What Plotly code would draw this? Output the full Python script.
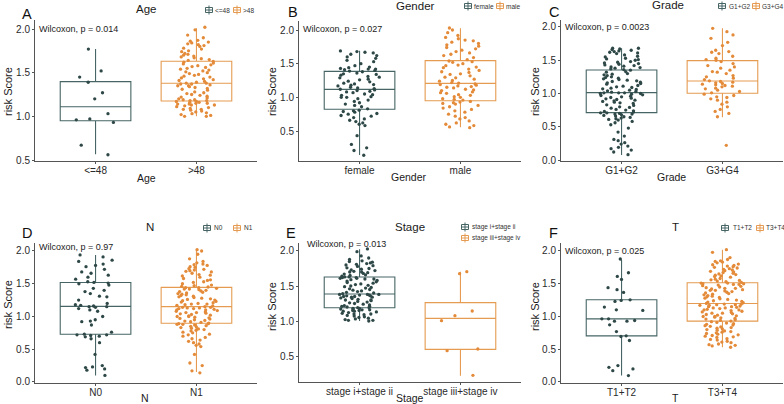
import plotly.graph_objects as go

W, H = 784, 404

# ---------------- data ----------------
age_cats = ["<=48", ">48"]
age_le48 = [1.77, 1.52, 1.45, 1.27, 1.20, 1.39, 1.03, 0.97, 0.96, 0.93, 0.67, 0.56]
age_gt48 = [1.00, 1.00, 1.01, 1.02, 1.03, 1.04, 1.05, 1.06, 1.07, 1.08, 1.08, 1.09, 1.10, 1.11, 1.12,
            1.13, 1.13, 1.14, 1.14, 1.15, 1.15, 1.16, 1.16, 1.17, 1.17, 1.18, 1.18, 1.19, 1.19, 1.20,
            1.21, 1.22, 1.23, 1.24, 1.25, 1.26, 1.27, 1.28, 1.30, 1.31, 1.32, 1.33, 1.34, 1.35, 1.35,
            1.36, 1.37, 1.37, 1.38, 1.38, 1.39, 1.40, 1.41, 1.42, 1.43, 1.44, 1.45, 1.46, 1.47, 1.48,
            1.49, 1.50, 1.51, 1.52, 1.53, 1.54, 1.55, 1.56, 1.57, 1.58, 1.59, 1.60, 1.61, 1.62, 1.63,
            1.64, 1.65, 1.66, 1.67, 1.68, 1.69, 1.70, 1.71, 1.72, 1.74, 1.75, 1.77, 1.78, 1.80, 1.81,
            1.82, 1.83, 1.84, 1.85, 1.86, 1.87, 1.90, 1.93, 1.99, 2.02]
age_box = {"<=48": [0.565, 0.95, 1.11, 1.397, 1.77], ">48": [1.00, 1.176, 1.378, 1.63, 2.008]}

gender_cats = ["female", "male"]
gender_female = [0.14, 0.21, 0.25, 0.30, 0.43, 0.58, 0.60, 0.62, 0.64, 0.66, 0.68, 0.70, 0.72, 0.73,
                 0.75, 0.76, 0.78, 0.79, 0.80, 0.81, 0.83, 0.86, 0.88, 0.90, 0.92, 0.94, 0.96, 0.98,
                 1.00, 1.00, 1.01, 1.03, 1.04, 1.05, 1.07, 1.08, 1.09, 1.10, 1.11, 1.12, 1.13, 1.14,
                 1.15, 1.17, 1.18, 1.19, 1.20, 1.21, 1.23, 1.24, 1.26, 1.27, 1.29, 1.30, 1.31, 1.33,
                 1.34, 1.35, 1.36, 1.38, 1.39, 1.40, 1.41, 1.42, 1.42, 1.43, 1.44, 1.45, 1.47, 1.50,
                 1.53, 1.55, 1.58, 1.60, 1.62, 1.64, 1.66, 1.67, 1.68, 1.69]
gender_male = [0.55, 0.56, 0.58, 0.60, 0.62, 0.65, 0.68, 0.70, 0.72, 0.75, 0.78, 0.80, 0.82, 0.84,
               0.86, 0.88, 0.90, 0.91, 0.92, 0.93, 0.94, 0.96, 0.97, 0.98, 1.00, 1.01, 1.03, 1.04,
               1.06, 1.07, 1.08, 1.10, 1.11, 1.12, 1.14, 1.15, 1.16, 1.17, 1.18, 1.19, 1.20, 1.21,
               1.22, 1.24, 1.25, 1.27, 1.29, 1.30, 1.32, 1.34, 1.35, 1.37, 1.38, 1.40, 1.42, 1.44,
               1.45, 1.47, 1.48, 1.50, 1.52, 1.53, 1.54, 1.56, 1.59, 1.62, 1.64, 1.66, 1.68, 1.70,
               1.72, 1.74, 1.76, 1.78, 1.80, 1.82, 1.84, 1.85, 1.87, 1.89, 1.92, 1.96, 2.00, 2.03]
gender_box = {"female": [0.144, 0.822, 1.119, 1.386, 1.693], "male": [0.555, 0.95, 1.208, 1.545, 2.025]}

grade_cats = ["G1+G2", "G3+G4"]
grade_g12 = [0.08, 0.12, 0.15, 0.17, 0.19, 0.21, 0.24, 0.26, 0.29, 0.31, 0.36, 0.42, 0.48, 0.53, 0.56,
             0.58, 0.60, 0.61, 0.62, 0.63, 0.64, 0.65, 0.66, 0.67, 0.68, 0.69, 0.69, 0.70, 0.71, 0.71,
             0.72, 0.73, 0.74, 0.75, 0.76, 0.78, 0.79, 0.80, 0.82, 0.83, 0.85, 0.86, 0.87, 0.88, 0.89,
             0.90, 0.91, 0.92, 0.93, 0.94, 0.95, 0.96, 0.97, 0.98, 0.99, 1.00, 1.00, 1.01, 1.01, 1.01,
             1.02, 1.03, 1.04, 1.05, 1.06, 1.07, 1.08, 1.09, 1.10, 1.11, 1.12, 1.14, 1.15, 1.16, 1.17,
             1.18, 1.19, 1.20, 1.21, 1.22, 1.23, 1.24, 1.25, 1.27, 1.28, 1.29, 1.30, 1.32, 1.33, 1.35,
             1.36, 1.37, 1.38, 1.39, 1.40, 1.41, 1.42, 1.43, 1.44, 1.45, 1.46, 1.47, 1.48, 1.50, 1.51,
             1.52, 1.53, 1.55, 1.56, 1.58, 1.60, 1.61, 1.62, 1.63, 1.64, 1.65, 1.66, 1.67, 1.68, 1.68]
grade_g34 = [0.22, 0.65, 0.70, 0.73, 0.76, 0.80, 0.84, 0.87, 0.90, 0.92, 0.94, 0.95, 0.97, 0.99,
             1.01, 1.03, 1.05, 1.07, 1.08, 1.10, 1.11, 1.12, 1.13, 1.14, 1.15, 1.16, 1.17, 1.18,
             1.19, 1.21, 1.23, 1.25, 1.27, 1.30, 1.32, 1.33, 1.35, 1.38, 1.40, 1.42, 1.45, 1.48,
             1.50, 1.51, 1.53, 1.56, 1.60, 1.62, 1.63, 1.65, 1.72, 1.77, 1.83, 1.88, 1.93, 1.98]
grade_box = {"G1+G2": [0.075, 0.712, 1.013, 1.353, 1.68], "G3+G4": [0.642, 1.003, 1.188, 1.494, 1.98]}

n_cats = ["N0", "N1"]
n_n0 = [0.10, 0.18, 0.20, 0.22, 0.23, 0.25, 0.42, 0.60, 0.66, 0.69, 0.70, 0.71, 0.72, 0.72,
        0.73, 0.76, 0.87, 0.92, 0.93, 0.95, 1.00, 1.08, 1.10, 1.12, 1.14, 1.15, 1.15, 1.16,
        1.17, 1.18, 1.20, 1.25, 1.30, 1.31, 1.35, 1.38, 1.40, 1.43, 1.48, 1.50, 1.51, 1.52,
        1.53, 1.57, 1.60, 1.63, 1.66, 1.68, 1.72, 1.76, 1.78, 1.80, 1.84, 1.86, 1.91, 1.94]
n_n1 = [0.14, 0.17, 0.25, 0.29, 0.42, 0.54, 0.56, 0.58, 0.60, 0.62, 0.64, 0.66, 0.68, 0.70, 0.72, 0.73,
        0.75, 0.76, 0.78, 0.79, 0.80, 0.81, 0.82, 0.83, 0.84, 0.85, 0.86, 0.87, 0.88, 0.88, 0.89, 0.89,
        0.90, 0.91, 0.92, 0.93, 0.94, 0.95, 0.96, 0.97, 0.98, 0.99, 1.00, 1.00, 1.01, 1.02, 1.03, 1.04,
        1.05, 1.06, 1.06, 1.07, 1.08, 1.09, 1.10, 1.10, 1.11, 1.12, 1.12, 1.13, 1.13, 1.14, 1.14, 1.15,
        1.16, 1.17, 1.18, 1.19, 1.19, 1.20, 1.21, 1.22, 1.23, 1.24, 1.25, 1.26, 1.27, 1.28, 1.29, 1.30,
        1.31, 1.32, 1.33, 1.34, 1.35, 1.36, 1.37, 1.38, 1.39, 1.40, 1.41, 1.42, 1.42, 1.43, 1.44, 1.44,
        1.45, 1.46, 1.47, 1.48, 1.50, 1.52, 1.53, 1.55, 1.56, 1.58, 1.60, 1.62, 1.63, 1.64, 1.66, 1.68,
        1.69, 1.70, 1.71, 1.72, 1.73, 1.75, 1.76, 1.78, 1.79, 1.80, 1.82, 1.84, 1.88, 1.95, 2.00, 2.02]
n_box = {"N0": [0.097, 0.728, 1.155, 1.52, 1.94], "N1": [0.153, 0.896, 1.15, 1.445, 2.015]}

stage_cats = ["stage i+stage ii", "stage iii+stage iv"]
stage_12 = [1.00, 1.01, 1.01, 1.02, 1.03, 1.04, 1.05, 1.06, 1.07, 1.08, 1.09, 1.10, 1.10, 1.11,
            1.12, 1.13, 1.14, 1.14, 1.15, 1.15, 1.16, 1.16, 1.17, 1.17, 1.18, 1.18, 1.19, 1.19,
            1.20, 1.21, 1.21, 1.22, 1.23, 1.24, 1.25, 1.26, 1.27, 1.28, 1.29, 1.30, 1.30, 1.31,
            1.32, 1.33, 1.34, 1.34, 1.35, 1.35, 1.36, 1.36, 1.37, 1.37, 1.38, 1.38, 1.38, 1.39,
            1.40, 1.41, 1.42, 1.43, 1.44, 1.45, 1.46, 1.47, 1.48, 1.49, 1.50, 1.51, 1.52, 1.53,
            1.54, 1.55, 1.56, 1.57, 1.58, 1.59, 1.60, 1.60, 1.61, 1.61, 1.62, 1.62, 1.63, 1.63,
            1.64, 1.65, 1.66, 1.67, 1.68, 1.69, 1.70, 1.70, 1.71, 1.72, 1.73, 1.74, 1.75, 1.76,
            1.78, 1.79, 1.80, 1.81, 1.82, 1.83, 1.84, 1.85, 1.86, 1.88, 1.90, 1.93, 1.99, 2.03]
stage_34 = [1.705, 1.676, 1.143, 1.076, 1.005, 0.600, 0.576, 0.224]
stage_box = {"stage i+stage ii": [1.0, 1.19, 1.386, 1.629, 2.024],
             "stage iii+stage iv": [0.219, 0.595, 1.038, 1.262, 1.705]}

t_cats = ["T1+T2", "T3+T4"]
t_12 = [1.878, 1.612, 1.566, 1.668, 1.44, 1.41, 1.367, 1.255, 1.245, 1.23, 1.143, 1.092, 1.102, 0.929,
        0.929, 0.939, 0.964, 0.964, 0.872, 0.77, 0.704, 0.694, 0.633, 0.25, 0.224, 0.20, 0.173, 0.097]
t_34 = [0.53, 0.55, 0.56, 0.57, 0.58, 0.60, 0.61, 0.62, 0.64, 0.65, 0.66, 0.68, 0.69, 0.70, 0.71, 0.72,
        0.73, 0.74, 0.75, 0.76, 0.77, 0.78, 0.79, 0.80, 0.81, 0.82, 0.83, 0.84, 0.85, 0.86, 0.87, 0.88,
        0.89, 0.90, 0.91, 0.92, 0.93, 0.94, 0.95, 0.96, 0.97, 0.98, 0.99, 1.00, 1.00, 1.01, 1.02, 1.03,
        1.04, 1.05, 1.05, 1.06, 1.07, 1.08, 1.09, 1.10, 1.10, 1.11, 1.12, 1.13, 1.13, 1.14, 1.15, 1.15,
        1.16, 1.17, 1.17, 1.18, 1.18, 1.19, 1.19, 1.20, 1.21, 1.22, 1.23, 1.24, 1.25, 1.26, 1.27, 1.28,
        1.29, 1.30, 1.31, 1.32, 1.33, 1.34, 1.35, 1.36, 1.37, 1.38, 1.39, 1.40, 1.40, 1.41, 1.42, 1.43,
        1.43, 1.44, 1.45, 1.46, 1.47, 1.48, 1.49, 1.49, 1.50, 1.50, 1.51, 1.51, 1.52, 1.53, 1.54, 1.55,
        1.56, 1.57, 1.58, 1.60, 1.61, 1.62, 1.63, 1.64, 1.65, 1.66, 1.67, 1.68, 1.69, 1.70, 1.71, 1.72,
        1.73, 1.74, 1.75, 1.76, 1.77, 1.78, 1.79, 1.80, 1.82, 1.83, 1.84, 1.85, 1.87, 1.90, 1.98, 2.02]
t_box = {"T1+T2": [0.097, 0.704, 0.964, 1.255, 1.867], "T3+T4": [0.531, 0.929, 1.199, 1.515, 2.02]}

pvals = ["0.014", "0.027", "0.0023", "0.97", "0.013", "0.025"]

# ---------------- styling / layout ----------------
TEAL, TEAL_PT = "#466564", "#2E4847"
ORANGE, ORANGE_PT = "#E59B52", "#E48B3A"
FONT = "Liberation Sans, Arial, sans-serif"


def fx(x):
    return x / W


def fy(y):
    return 1 - y / H


panels = [
    dict(letter="A", title="Age", cats=age_cats, data=[age_le48, age_gt48], box=age_box,
         xd=(35, 257), yd=(20, 161), yr=(0.4885, 2.103), ticks=[0.5, 1.0, 1.5, 2.0],
         title_pos=(146, 9), letter_pos=(27, 14), wil=(38, 29), ytitle=(8, 92), xtitle=(146, 178),
         leg=[(209, 10, 214), (237, 10, 242)]),
    dict(letter="B", title="Gender", cats=gender_cats, data=[gender_female, gender_male], box=gender_box,
         xd=(299, 521), yd=(21, 161), yr=(0.0544, 2.134), ticks=[0.5, 1.0, 1.5, 2.0],
         title_pos=(415, 6), letter_pos=(293, 12), wil=(302, 29), ytitle=(272, 92), xtitle=(409, 177),
         leg=[(468, 6, 473), (500, 6, 505)]),
    dict(letter="C", title="Grade", cats=grade_cats, data=[grade_g12, grade_g34], box=grade_box,
         xd=(561, 783), yd=(20, 161), yr=(-0.015, 2.105), ticks=[0.0, 0.5, 1.0, 1.5, 2.0],
         title_pos=(668, 5), letter_pos=(554, 12), wil=(564, 27), ytitle=(535, 92), xtitle=(671, 177),
         leg=[(722, 6, 728), (756, 6, 761)]),
    dict(letter="D", title="N", cats=n_cats, data=[n_n0, n_n1], box=n_box,
         xd=(35, 257), yd=(243, 382.5), yr=(-0.008, 2.122), ticks=[0.0, 0.5, 1.0, 1.5, 2.0],
         title_pos=(150, 227), letter_pos=(27, 233), wil=(38, 247), ytitle=(8, 305), xtitle=(145, 398),
         leg=[(207, 228, 213), (237, 228, 243)]),
    dict(letter="E", title="Stage", cats=stage_cats, data=[stage_12, stage_34], box=stage_box,
         xd=(299, 521), yd=(243, 382), yr=(0.129, 2.114), ticks=[0.5, 1.0, 1.5, 2.0],
         title_pos=(410, 227), letter_pos=(291, 233), wil=(306, 244), ytitle=(272, 307), xtitle=(410, 398),
         leg=[(465, 227, 471), (465, 238, 471)]),
    dict(letter="F", title="T", cats=t_cats, data=[t_12, t_34], box=t_box,
         xd=(561, 783), yd=(243, 382.5), yr=(-0.008, 2.122), ticks=[0.0, 0.5, 1.0, 1.5, 2.0],
         title_pos=(675, 227), letter_pos=(553, 233), wil=(564, 251), ytitle=(535, 307), xtitle=(675, 398),
         leg=[(725, 228, 732), (760, 228, 765)]),
]

fig = go.Figure()
layout = dict(width=W, height=H, autosize=False, margin=dict(l=0, r=0, t=0, b=0, pad=0),
              paper_bgcolor="white", plot_bgcolor="white", showlegend=False,
              font=dict(family=FONT, color="#222"), boxmode="overlay")
annotations = []
shapes = []

line_cols = [TEAL, ORANGE]
pt_cols = [TEAL_PT, ORANGE_PT]


def ann(text, x, y, size, xanchor="center", color="#1a1a1a", textangle=0):
    annotations.append(dict(text=text, x=fx(x), y=fy(y), xref="paper", yref="paper",
                            showarrow=False, xanchor=xanchor, yanchor="middle",
                            font=dict(size=size, color=color, family=FONT),
                            textangle=textangle, borderpad=0))


for i, p in enumerate(panels, start=1):
    xa = "x" if i == 1 else f"x{i}"
    ya = "y" if i == 1 else f"y{i}"
    for j, cat in enumerate(p["cats"]):
        lf, q1, med, q3, uf = p["box"][cat]
        fig.add_trace(go.Box(x=[j + 1], q1=[q1], median=[med], q3=[q3], lowerfence=[lf], upperfence=[uf],
                             width=0.7, whiskerwidth=0, boxpoints=False,
                             line=dict(color=line_cols[j], width=1.1),
                             fillcolor="rgba(255,255,255,0)", xaxis=xa, yaxis=ya,
                             hoverinfo="skip", name=cat))
        vals = p["data"][j]
        fig.add_trace(go.Box(x0=j + 1, y=vals, width=0.7, whiskerwidth=0, boxpoints="all",
                             jitter=0.68, pointpos=0,
                             line=dict(color="rgba(0,0,0,0)", width=0),
                             fillcolor="rgba(0,0,0,0)",
                             marker=dict(color=pt_cols[j], size=3.3, line=dict(width=0)),
                             xaxis=xa, yaxis=ya, name=cat))
    kx = "xaxis" if i == 1 else f"xaxis{i}"
    ky = "yaxis" if i == 1 else f"yaxis{i}"
    axis_common = dict(showline=True, linecolor="#555", linewidth=1, ticks="outside", ticklen=2,
                       tickcolor="#555", tickwidth=1, showgrid=False, zeroline=False,
                       automargin=False,
                       tickfont=dict(size=10, color="#2a2a2a", family=FONT), fixedrange=True)
    layout[kx] = dict(domain=[fx(p["xd"][0]), fx(p["xd"][1])], range=[0.4, 2.6],
                      tickvals=[1, 2], ticktext=p["cats"], anchor=ya, ticklabelstandoff=-2,
                      **axis_common)
    layout[ky] = dict(domain=[fy(p["yd"][1]), fy(p["yd"][0])], range=list(p["yr"]),
                      tickvals=p["ticks"], tickformat=".1f", anchor=xa, **axis_common)

    ann(p["title"], *p["title_pos"], 11.5)
    ann(p["letter"], *p["letter_pos"], 14.5, color="#111")
    ann(f"Wilcoxon, p = {pvals[i - 1]}", *p["wil"], 9, xanchor="left", color="#222")
    ann("risk Score", *p["ytitle"], 11, textangle=-90)
    ann(p["title"], *p["xtitle"], 10.5)

    # legend keys
    for j, (cx, cy, tx) in enumerate(p["leg"]):
        c = line_cols[j]
        shapes.append(dict(type="rect", xref="paper", yref="paper",
                           x0=fx(cx - 3.5), x1=fx(cx + 3.5), y0=fy(cy + 2.5), y1=fy(cy - 2.5),
                           line=dict(color=c, width=1), fillcolor="white"))
        shapes.append(dict(type="line", xref="paper", yref="paper",
                           x0=fx(cx - 3.5), x1=fx(cx + 3.5), y0=fy(cy), y1=fy(cy),
                           line=dict(color=c, width=1)))
        shapes.append(dict(type="line", xref="paper", yref="paper",
                           x0=fx(cx), x1=fx(cx), y0=fy(cy - 4.5), y1=fy(cy + 4.5),
                           line=dict(color=c, width=1)))
        ann(p["cats"][j], tx, cy, 6.5, xanchor="left", color="#333")

layout["annotations"] = annotations
layout["shapes"] = shapes
fig.update_layout(**layout)
fig.write_html("out.html",
               config={"displayModeBar": False, "staticPlot": True},
               post_script="document.body.style.margin='0';document.body.style.padding='0';"
                           "document.body.style.overflow='hidden';")
